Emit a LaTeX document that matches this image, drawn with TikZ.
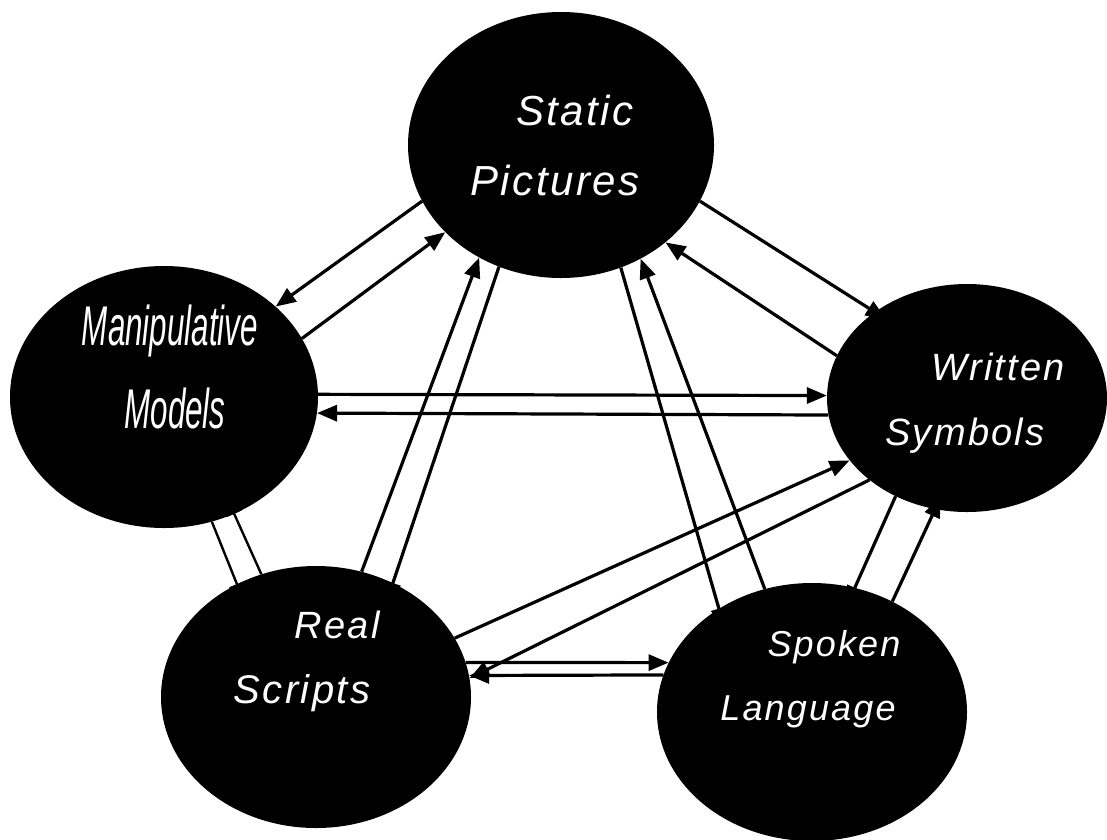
\documentclass[tikz,border=0pt]{standalone}
\usepackage{graphicx}
\usepackage{fontspec}
\setmainfont{Liberation Sans}
\newfontfamily\spacedfont[LetterSpace=6]{Liberation Sans}
\newfontfamily\plainfont{Liberation Sans}
\usetikzlibrary{arrows.meta,shapes.geometric}
\pgfdeclarelayer{background}
\pgfsetlayers{background,main}

\begin{document}
\begin{tikzpicture}[x=1pt,y=-1pt,
  blob/.style={ellipse, fill=black, draw=none, inner sep=0pt},
  lbl/.style={text=white, anchor=base, inner sep=0pt,
    font=\spacedfont\itshape\fontsize{#1}{#1}\selectfont},
  narrowlbl/.style={text=white, anchor=base, inner sep=0pt,
    font=\plainfont\itshape\fontsize{#1}{#1}\selectfont},
  link/.style={line width=3.2pt, -{Triangle[length=20pt,width=16pt]}},
  thinlink/.style={link, line width=2.4pt},
  hidden/.style={shorten >=-20pt},
  partly/.style={shorten >=-13pt},
]
\useasboundingbox (0,0) rectangle (1107,839);

% the five representations
\node[blob, minimum width=306pt, minimum height=266pt] (static)  at (561,145) {};
\node[blob, minimum width=308pt, minimum height=262pt] (manip)   at (164,397) {};
\node[blob, minimum width=280pt, minimum height=228pt] (written) at (967,398) {};
\node[blob, minimum width=310pt, minimum height=262pt] (real)    at (316,697) {};
\node[blob, minimum width=310pt, minimum height=258pt] (spoken)  at (812,712) {};

% labels
\node[lbl=42] (tstatic)   at (575,125) {Static};
\node[lbl=42] (tpictures) at (555,195) {Pictures};
\node[narrowlbl=56] (tmanip)  at (170,345) {\scalebox{0.56}[1]{Manipulative}};
\node[narrowlbl=56] (tmodels) at (175,428) {\scalebox{0.56}[1]{Models}};
\node[lbl=38] (twritten)  at (998,380) {Written};
\node[lbl=38] (tsymbols)  at (965,445) {Symbols};
\node[lbl=38] (treal)     at (337,638) {Real};
\node[lbl=40] (tscripts)  at (302,703) {Scripts};
\node[lbl=36] (tspoken)   at (834,656) {Spoken};
\node[lbl=36] (tlanguage) at (808,720) {Language};

% translations between representations, behind the ellipses
\begin{pgfonlayer}{background}
\fill[white] (0,0) rectangle (1107,839);
% static pictures <-> manipulative models
\draw[link] (static.202) -- (manip.39);
\draw[link] (manip.23) -- (static.217);
% static pictures <-> written symbols
\draw[link, partly] (static.338) -- (written.137);
\draw[link] (written.162) -- (static.317);
% static pictures <-> real scripts
\draw[link] (real.70) -- (static.234);
\draw[link, hidden] (static.243) -- (real.56);
% static pictures <-> spoken language
\draw[link, hidden] (static.296) -- (spoken.132);
\draw[link] (spoken.111) -- (static.305);
% manipulative models <-> written symbols
\draw[link] (manip.1) -- (written.179);
\draw[link] (written.187) -- (manip.354);
% manipulative models <-> real scripts
\draw[thinlink, hidden] (manip.291) -- (real.125);
\draw[thinlink, hidden] (real.114) -- (manip.301);
% written symbols <-> spoken language
\draw[link, hidden] (written.234) -- (spoken.71);
\draw[link, partly] (spoken.54) -- (written.254);
% real scripts <-> written symbols
\draw[link] (real.23) -- (written.208);
\draw[link] (written.220) -- (real.7);
% real scripts <-> spoken language
\draw[link] (real.13) -- (spoken.161);
\draw[link] (spoken.166) -- (real.8);
\end{pgfonlayer}
\end{tikzpicture}
\end{document}
